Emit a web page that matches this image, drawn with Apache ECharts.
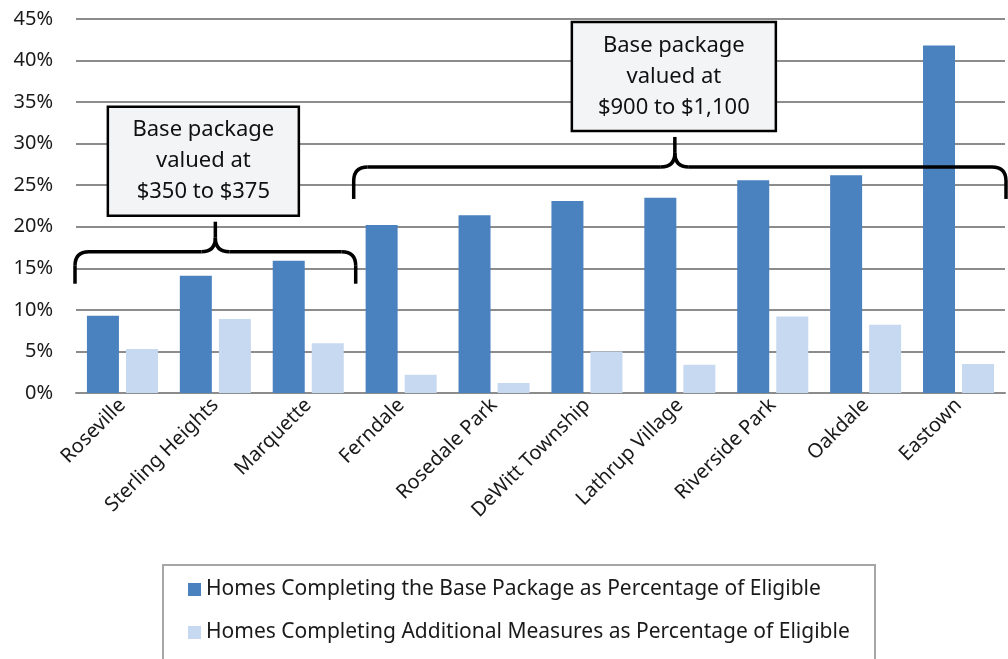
<!DOCTYPE html>
<html>
<head>
<meta charset="utf-8">
<script src="https://cdn.jsdelivr.net/npm/echarts@6/dist/echarts.min.js"></script>
<style>
html,body{margin:0;padding:0;background:#fff;}
#chart{width:1008px;height:659px;}
</style>
</head>
<body>
<div id="chart"></div>
<script>
const categories = ['Roseville','Sterling Heights','Marquette','Ferndale','Rosedale Park','DeWitt Township','Lathrup Village','Riverside Park','Oakdale','Eastown'];
const basePackage = [9.3, 14.1, 15.9, 20.2, 21.4, 23.1, 23.5, 25.6, 26.2, 41.8];
const additionalMeasures = [5.3, 8.9, 6.0, 2.2, 1.2, 5.0, 3.4, 9.2, 8.2, 3.5];
const seriesNames = ['Homes Completing the Base Package as Percentage of Eligible','Homes Completing Additional Measures as Percentage of Eligible'];
const yTicks = [0, 5, 10, 15, 20, 25, 30, 35, 40, 45];
// annotation groups: first/last category index, bracket level (%), label lines
const groupStart = [0, 3];
const groupEnd = [2, 9];
const groupLevel = [17.0, 27.2];
const groupLabels = [['Base package','valued at','$350 to $375'], ['Base package','valued at','$900 to $1,100']];

const FONT = 'Noto Sans';
const chart = echarts.init(document.getElementById('chart'));
chart.setOption({
  animation: false,
  textStyle: {fontFamily: FONT},
  grid: {left: 76, right: 3, top: 19, bottom: 266, containLabel: false},
  xAxis: {
    type: 'category',
    data: categories,
    axisTick: {show: false},
    axisLine: {lineStyle: {color: '#8c8c8c', width: 2}},
    axisLabel: {rotate: 45, fontSize: 20, color: '#1a1a1a', margin: 9, interval: 0, fontFamily: FONT}
  },
  yAxis: {
    type: 'value',
    min: yTicks[0],
    max: yTicks[yTicks.length - 1],
    interval: 5,
    axisLine: {show: false},
    axisTick: {show: false},
    splitLine: {lineStyle: {color: '#8c8c8c', width: 2}},
    axisLabel: {formatter: '{value}%', fontSize: 20, color: '#1a1a1a', margin: 23, fontFamily: FONT}
  },
  legend: {
    orient: 'vertical',
    left: 188,
    top: 579,
    padding: 0,
    itemGap: 22,
    itemWidth: 13,
    itemHeight: 13,
    icon: 'rect',
    textStyle: {fontSize: 21, color: '#1a1a1a', fontFamily: FONT},
    data: seriesNames
  },
  series: [
    {name: seriesNames[0], type: 'bar', data: basePackage, barWidth: 32, barGap: '22%', itemStyle: {color: '#4a81bf'}},
    {name: seriesNames[1], type: 'bar', data: additionalMeasures, barWidth: 32, itemStyle: {color: '#c6d9f0'}}
  ]
});

function drawAnnotations() {
  const c0 = chart.convertToPixel({xAxisIndex: 0}, 0);
  const c1 = chart.convertToPixel({xAxisIndex: 0}, 1);
  const band = c1 - c0;
  const elements = [];
  const lineStyle = {stroke: '#000', lineWidth: 3.5, fill: 'none'};
  function seg(ax, ay, bx, by) {
    elements.push({type: 'line', shape: {x1: ax, y1: ay, x2: bx, y2: by}, style: lineStyle, z: 10});
  }
  function curve(ax, ay, cx, cy, bx, by) {
    elements.push({type: 'bezierCurve', shape: {x1: ax, y1: ay, cpx1: cx, cpy1: cy, x2: bx, y2: by}, style: lineStyle, z: 10});
  }
  const boxShift = [-12, -6];
  const boxWidths = [191, 204];
  for (let g = 0; g < groupStart.length; g++) {
    const x0 = chart.convertToPixel({xAxisIndex: 0}, groupStart[g]) - band / 2 - 1;
    const x1 = chart.convertToPixel({xAxisIndex: 0}, groupEnd[g]) + band / 2 + 1;
    const y = chart.convertToPixel({yAxisIndex: 0}, groupLevel[g]);
    const xm = (x0 + x1) / 2 - (g === 1 ? 5 : 0);
    const r = 14, down = 32, up = 30;
    seg(x0, y + down, x0, y + r);
    curve(x0, y + r, x0, y, x0 + r, y);
    seg(x0 + r, y, xm - r, y);
    curve(xm - r, y, xm, y, xm, y - r);
    seg(xm, y - r, xm, y - up);
    curve(xm + r, y, xm, y, xm, y - r);
    seg(xm + r, y, x1 - r, y);
    curve(x1 - r, y, x1, y, x1, y + r);
    seg(x1, y + r, x1, y + down);
    const lines = groupLabels[g];
    const lineH = 31;
    const boxW = boxWidths[g];
    const boxH = lineH * lines.length + 16;
    const boxBottom = y - up - 6;
    const boxTop = boxBottom - boxH;
    const bx = xm + boxShift[g] + (g === 1 ? 5 : 0);
    elements.push({type: 'rect', shape: {x: bx - boxW / 2, y: boxTop, width: boxW, height: boxH}, style: {fill: '#f3f4f6', stroke: '#000', lineWidth: 2.5}, z: 11});
    elements.push({type: 'text', x: bx, y: boxTop + boxH / 2, style: {text: lines.join('\n'), fontSize: 22, lineHeight: lineH, fontFamily: FONT, fill: '#111', align: 'center', verticalAlign: 'middle'}, z: 12});
  }
  // legend frame
  elements.push({type: 'rect', shape: {x: 163, y: 565, width: 712, height: 110}, style: {fill: 'none', stroke: '#a6a6a6', lineWidth: 2}, z: 1});
  chart.setOption({graphic: elements});
}
drawAnnotations();
</script>
</body>
</html>
